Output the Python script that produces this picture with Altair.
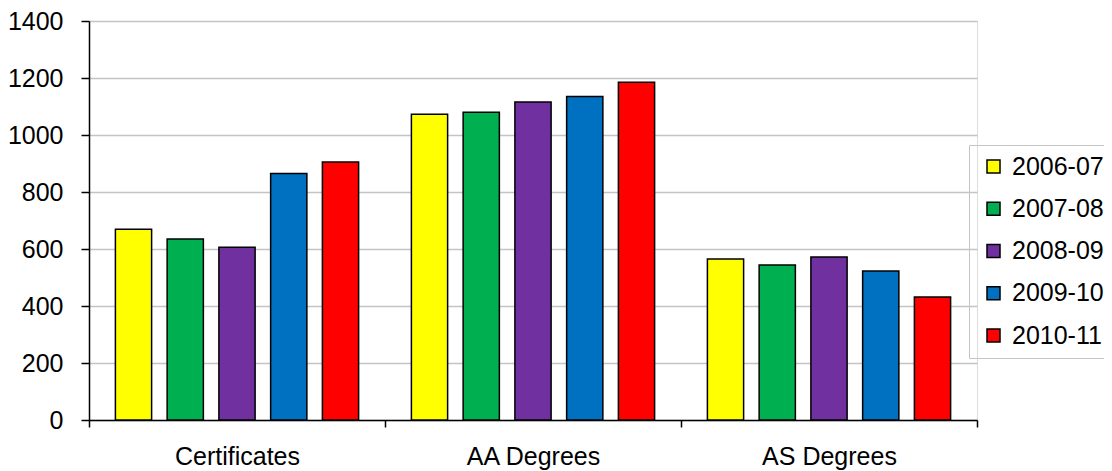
import altair as alt
import pandas as pd

categories = ["Certificates", "AA Degrees", "AS Degrees"]
years = ["2006-07", "2007-08", "2008-09", "2009-10", "2010-11"]
certificates = [669, 635, 606, 865, 905]
aa_degrees = [1073, 1080, 1116, 1135, 1185]
as_degrees = [565, 544, 572, 523, 432]
colors = ["#FFFF00", "#00B050", "#7030A0", "#0070C0", "#FF0000"]
y_ticks = [0, 200, 400, 600, 800, 1000, 1200, 1400]

rows = []
for cat, vals in zip(categories, [certificates, aa_degrees, as_degrees]):
    for yr, v in zip(years, vals):
        rows.append({"category": cat, "year": yr, "value": v})
df = pd.DataFrame(rows)

FONT = "Liberation Sans"
FS = 25

chart = alt.Chart(df).mark_bar(stroke="black", strokeWidth=1.5).encode(
    x=alt.X("category:N", sort=categories, title=None,
            scale=alt.Scale(paddingInner=0, paddingOuter=0),
            axis=alt.Axis(labelAngle=0, labelFontSize=FS, labelFont=FONT, labelColor="black",
                          domainColor="black", domainWidth=1.5, tickColor="black", tickWidth=1.5,
                          tickSize=7, tickBand="extent", labelPadding=17, grid=False)),
    xOffset=alt.XOffset("year:N", sort=years,
                        scale=alt.Scale(paddingInner=0.3, paddingOuter=0.51)),
    y=alt.Y("value:Q", title=None,
            scale=alt.Scale(domain=[0, 1400], nice=False),
            axis=alt.Axis(values=y_ticks, format="d", labelFontSize=FS, labelFont=FONT,
                          labelColor="black",
                          domainColor="black", domainWidth=1.5, tickColor="black", tickWidth=1.5,
                          tickSize=8, labelPadding=18, gridColor="#c4c4c4", gridWidth=1.5)),
    color=alt.Color("year:N", sort=years, title=None,
                    scale=alt.Scale(domain=years, range=colors),
                    legend=alt.Legend(orient="none", legendX=880, legendY=124,
                                      symbolType="square", symbolSize=169,
                                      symbolStrokeColor="black", symbolStrokeWidth=1.5,
                                      labelFontSize=FS, labelFont=FONT, labelColor="black",
                                      rowPadding=16.25, padding=9, strokeColor="#c4c4c4",
                                      labelOffset=6, symbolOffset=3)),
).properties(
    width=888, height=399,
    autosize=alt.AutoSizeParams(type="none"),
    padding={"left": 81, "top": 13, "right": 127, "bottom": 51},
).configure_view(stroke=None).configure(background="white")

chart.save("out.html", embed_options={"renderer": "svg", "actions": False})
